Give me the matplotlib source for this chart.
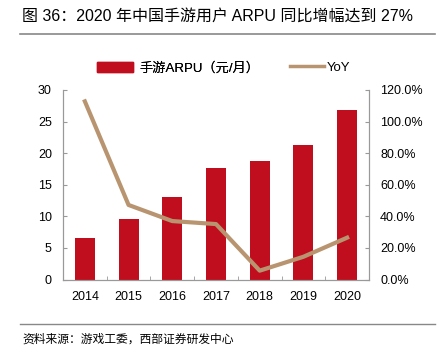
import matplotlib
matplotlib.use("Agg")
import matplotlib.pyplot as plt
from matplotlib.lines import Line2D
from matplotlib.patches import Patch

plt.rcParams['font.family'] = ['Liberation Sans', 'Noto Sans CJK SC', 'DejaVu Sans']

years = ['2014', '2015', '2016', '2017', '2018', '2019', '2020']
arpu = [6.6, 9.6, 13.1, 17.7, 18.7, 21.3, 26.9]
yoy = [112.8, 47.2, 37.0, 35.1, 5.6, 14.4, 26.5]
left_ticks = [0, 5, 10, 15, 20, 25, 30]
right_ticks = [0, 20, 40, 60, 80, 100, 120]

bar_color = '#C00E1E'
line_color = '#B89570'
axis_color = '#999999'

W, H = 441, 361
fig = plt.figure(figsize=(W / 100, H / 100), dpi=100)
ax = fig.add_axes([63 / W, 1 - 279.5 / H, (369 - 63) / W, (279.5 - 90) / H])
x = list(range(len(years)))
ax.bar(x, arpu, width=0.46, color=bar_color, zorder=2)
ax.set_xlim(-0.5, len(years) - 0.5)
ax.set_ylim(0, 30)
ax.set_yticks(left_ticks)
ax.set_xticks(x)
ax.set_xticklabels(years)
ax.set_xticks([i + 0.5 for i in x[:-1]], minor=True)
ax.tick_params(axis='x', which='major', length=0, labelsize=9, pad=8)
ax.tick_params(axis='x', which='minor', length=3, direction='in', color=axis_color)
ax.tick_params(axis='y', length=3, direction='in', color=axis_color, labelsize=9, pad=8)

ax2 = ax.twinx()
ax2.plot(x, yoy, color=line_color, linewidth=3, zorder=3)
ax2.set_ylim(0, 120)
ax2.set_yticks(right_ticks)
ax2.set_yticklabels([f'{v:.1f}%' for v in right_ticks])
ax2.tick_params(axis='y', length=3, direction='in', color=axis_color, labelsize=9, pad=8)

for a in (ax, ax2):
    a.spines['top'].set_visible(False)
    for s in ('left', 'right', 'bottom'):
        a.spines[s].set_color(axis_color)
        a.spines[s].set_linewidth(0.8)

ly = 1 - 68 / H
leg1 = fig.legend([Patch(color=bar_color)], ['手游ARPU（元/月）'], loc='center left',
                  bbox_to_anchor=(97 / W, ly), frameon=False, fontsize=9.5, borderpad=0,
                  borderaxespad=0, handlelength=2.7, handleheight=0.8, handletextpad=0.5)
fig.add_artist(leg1)
fig.legend([Line2D([0], [0], color=line_color, linewidth=2.5)], ['YoY'], loc='center left',
           bbox_to_anchor=(290 / W, ly), frameon=False, fontsize=9.5, borderpad=0,
           borderaxespad=0, handlelength=2.6, handletextpad=0.2)

fig.text(22 / W, 1 - 16 / H, '图 36：2020 年中国手游用户 ARPU 同比增幅达到 27%', fontsize=11.5,
         va='center', ha='left')
fig.add_artist(Line2D([20 / W, 435 / W], [1 - 34 / H, 1 - 34 / H], color='#888888', linewidth=1.2))
fig.add_artist(Line2D([20 / W, 435 / W], [1 - 324 / H, 1 - 324 / H], color='#888888', linewidth=1.0))
fig.text(22 / W, 1 - 340 / H, '资料来源：游戏工委，西部证券研发中心', fontsize=8.5, va='center', ha='left')

fig.savefig('out.png', dpi=100)
